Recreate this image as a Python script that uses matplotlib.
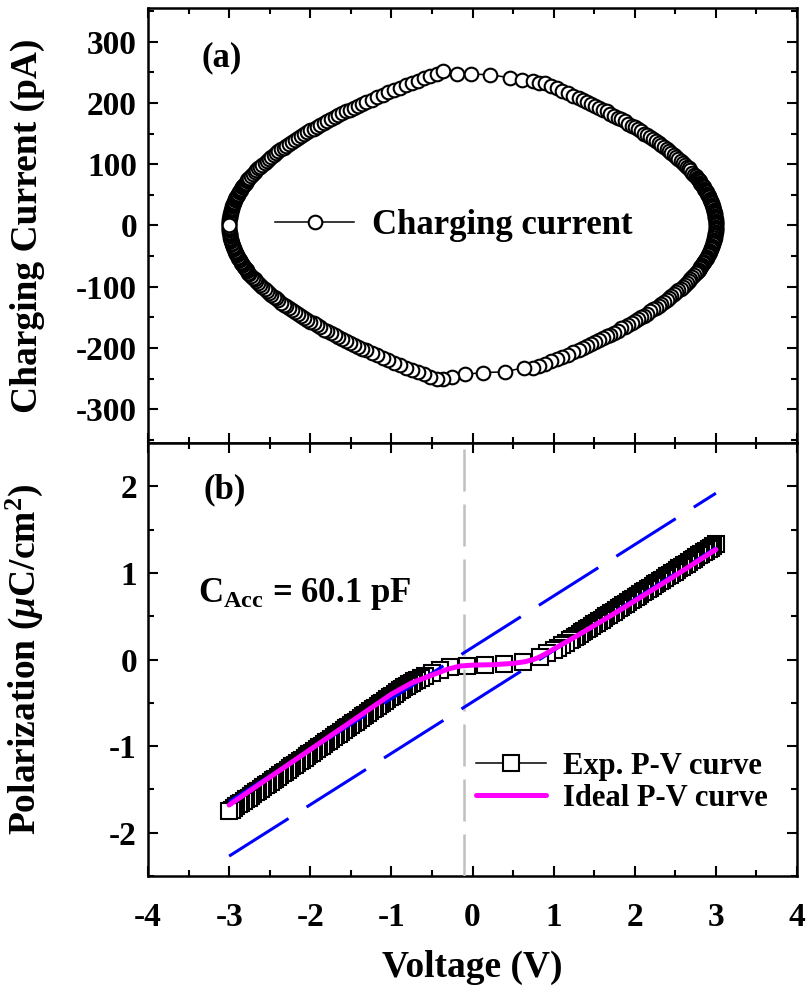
import matplotlib
matplotlib.use('Agg')
import matplotlib.pyplot as plt
from matplotlib.ticker import MultipleLocator

#%% fonts / general look (Times-like bold everywhere)
plt.rcParams['font.family'] = 'Liberation Serif'
plt.rcParams['font.weight'] = 'bold'
plt.rcParams['axes.unicode_minus'] = False
plt.rcParams['mathtext.fontset'] = 'custom'
plt.rcParams['mathtext.rm'] = 'Liberation Serif:bold'
plt.rcParams['mathtext.bf'] = 'Liberation Serif:bold'
plt.rcParams['mathtext.it'] = 'Liberation Serif:italic:bold'

#%% (a) charging current loop
# upper branch, left part (V rising from -3)
up_left_v = [-3.000, -3.000, -2.999, -2.999, -2.998, -2.996, -2.994, -2.992, -2.990, -2.987,
             -2.984, -2.981, -2.978, -2.974, -2.969, -2.965, -2.960, -2.955, -2.949, -2.944,
             -2.938, -2.931, -2.924, -2.917, -2.910, -2.902, -2.894, -2.886, -2.878, -2.869,
             -2.859, -2.850, -2.840, -2.830, -2.819, -2.809, -2.798, -2.786, -2.774, -2.762,
             -2.750, -2.730, -2.708, -2.686, -2.664, -2.640, -2.616, -2.590, -2.564, -2.538,
             -2.510, -2.482, -2.452, -2.422, -2.392, -2.360, -2.328, -2.294, -2.260, -2.226,
             -2.190, -2.154, -2.116, -2.078, -2.040, -2.000, -1.960, -1.918, -1.876, -1.834,
             -1.790, -1.746, -1.700, -1.654, -1.608, -1.560, -1.512, -1.462, -1.412, -1.362,
             -1.310, -1.244, -1.178, -1.109, -1.040, -0.969, -0.898, -0.824, -0.750, -0.674,
             -0.598, -0.519, -0.440, -0.359]
up_left_i = [0, 2, 4, 6, 8, 10, 12, 14, 16, 17,
             19, 21, 23, 25, 27, 29, 31, 33, 35, 37,
             39, 41, 43, 45, 47, 48, 50, 52, 54, 56,
             58, 60, 62, 64, 66, 68, 70, 72, 74, 76,
             78, 81, 84, 87, 90, 93, 96, 99, 102, 105,
             109, 112, 115, 118, 121, 124, 127, 130, 133, 136,
             140, 143, 146, 149, 152, 155, 158, 161, 164, 167,
             171, 174, 177, 180, 183, 186, 189, 192, 195, 198,
             202, 205, 209, 213, 217, 221, 225, 229, 233, 236,
             240, 244, 248, 252]
# sparse points round the top
top_v = [-0.19, -0.02, 0.22, 0.46, 0.61, 0.75]
top_i = [248, 247, 246, 241, 238, 235]
# upper branch, right part
up_right_v = [0.824, 0.898, 0.969, 1.040, 1.109, 1.178, 1.244, 1.310, 1.362, 1.412,
              1.462, 1.512, 1.560, 1.608, 1.654, 1.700, 1.746, 1.790, 1.834, 1.876,
              1.918, 1.960, 2.000, 2.040, 2.078, 2.116, 2.154, 2.190, 2.226, 2.260,
              2.294, 2.328, 2.360, 2.392, 2.422, 2.452, 2.482, 2.510, 2.538, 2.564,
              2.590, 2.616, 2.640, 2.664, 2.686, 2.708, 2.730, 2.750, 2.762, 2.774,
              2.786, 2.798, 2.809, 2.819, 2.830, 2.840, 2.850, 2.859, 2.869, 2.878,
              2.886, 2.894, 2.902, 2.910, 2.917, 2.924, 2.931, 2.938, 2.944, 2.949,
              2.955, 2.960, 2.965, 2.969, 2.974, 2.978, 2.981, 2.984, 2.987, 2.990,
              2.992, 2.994, 2.996, 2.998, 2.999, 2.999, 3.000, 3.000]
up_right_i = [233, 232, 228, 224, 220, 216, 212, 208, 205, 202,
              198, 195, 192, 189, 186, 182, 179, 176, 173, 170,
              166, 163, 160, 157, 154, 150, 147, 144, 141, 138,
              134, 131, 128, 125, 122, 118, 115, 112, 109, 106,
              102, 99, 96, 93, 90, 86, 83, 80, 78, 76,
              74, 72, 70, 68, 66, 64, 62, 60, 58, 56,
              54, 52, 50, 48, 46, 44, 42, 40, 38, 36,
              34, 32, 30, 28, 26, 24, 22, 20, 18, 16,
              14, 12, 10, 8, 6, 4, 2, 0]
# lower branch, right part (V falling from 3)
low_right_v = [3.000, 2.999, 2.999, 2.998, 2.996, 2.994, 2.992, 2.990, 2.987, 2.984,
               2.981, 2.978, 2.974, 2.969, 2.965, 2.960, 2.955, 2.949, 2.944, 2.938,
               2.931, 2.924, 2.917, 2.910, 2.902, 2.894, 2.886, 2.878, 2.869, 2.859,
               2.850, 2.840, 2.830, 2.819, 2.809, 2.798, 2.786, 2.774, 2.762, 2.750,
               2.730, 2.708, 2.686, 2.664, 2.640, 2.616, 2.590, 2.564, 2.538, 2.510,
               2.482, 2.452, 2.422, 2.392, 2.360, 2.328, 2.294, 2.260, 2.226, 2.190,
               2.154, 2.116, 2.078, 2.040, 2.000, 1.960, 1.918, 1.876, 1.834, 1.790,
               1.746, 1.700, 1.654, 1.608, 1.560, 1.512, 1.462, 1.412, 1.362, 1.310,
               1.244, 1.178, 1.109, 1.040, 0.969, 0.898, 0.824]
low_right_i = [-2, -4, -6, -8, -10, -12, -14, -16, -18, -20,
               -21, -23, -25, -27, -29, -31, -33, -35, -37, -39,
               -41, -43, -45, -47, -49, -51, -53, -55, -57, -59,
               -60, -62, -64, -66, -68, -70, -72, -74, -76, -78,
               -81, -84, -87, -90, -94, -97, -100, -103, -106, -109,
               -112, -115, -119, -122, -125, -128, -131, -134, -137, -140,
               -144, -147, -150, -153, -156, -159, -162, -165, -168, -172,
               -175, -178, -181, -184, -187, -190, -193, -197, -200, -203,
               -207, -211, -215, -218, -222, -226, -230]
# sparse points round the bottom
bot_v = [0.75, 0.63, 0.40, 0.13, -0.09, -0.25, -0.37]
bot_i = [-232, -232, -239, -240, -243, -248, -250]
# lower branch, left part
low_left_v = [-0.440, -0.519, -0.598, -0.674, -0.750, -0.824, -0.898, -0.969, -1.040, -1.109,
              -1.178, -1.244, -1.310, -1.362, -1.412, -1.462, -1.512, -1.560, -1.608, -1.654,
              -1.700, -1.746, -1.790, -1.834, -1.876, -1.918, -1.960, -2.000, -2.040, -2.078,
              -2.116, -2.154, -2.190, -2.226, -2.260, -2.294, -2.328, -2.360, -2.392, -2.422,
              -2.452, -2.482, -2.510, -2.538, -2.564, -2.590, -2.616, -2.640, -2.664, -2.686,
              -2.708, -2.730, -2.750, -2.762, -2.774, -2.786, -2.798, -2.809, -2.819, -2.830,
              -2.840, -2.850, -2.859, -2.869, -2.878, -2.886, -2.894, -2.902, -2.910, -2.917,
              -2.924, -2.931, -2.938, -2.944, -2.949, -2.955, -2.960, -2.965, -2.969, -2.974,
              -2.978, -2.981, -2.984, -2.987, -2.990, -2.992, -2.994, -2.996, -2.998, -2.999,
              -2.999, -3.000, -3.000]
low_left_i = [-251, -247, -243, -239, -236, -232, -228, -224, -220, -216,
              -212, -208, -204, -201, -198, -195, -192, -188, -185, -182,
              -179, -176, -173, -170, -166, -163, -160, -157, -154, -151,
              -148, -144, -141, -138, -135, -132, -129, -126, -122, -119,
              -116, -113, -110, -107, -104, -100, -97, -94, -91, -88,
              -85, -82, -79, -77, -75, -73, -71, -69, -67, -65,
              -63, -61, -59, -57, -55, -53, -51, -49, -47, -45,
              -43, -41, -39, -37, -35, -33, -31, -29, -28, -26,
              -24, -22, -20, -18, -16, -14, -12, -10, -8, -6,
              -4, -2, 0]

#%% (b) polarization (swept from +3 V down to -3 V)
exp_v_right = [3.00, 2.97, 2.94, 2.91, 2.88, 2.85, 2.82, 2.79, 2.76, 2.73,
               2.70, 2.67, 2.64, 2.61, 2.58, 2.55, 2.52, 2.49, 2.46, 2.43,
               2.40, 2.37, 2.34, 2.31, 2.28, 2.25, 2.22, 2.19, 2.16, 2.13,
               2.10, 2.07, 2.04, 2.01, 1.98, 1.95, 1.92, 1.89, 1.86, 1.83,
               1.80, 1.77, 1.74, 1.71, 1.68, 1.65, 1.62, 1.59, 1.56, 1.53,
               1.50, 1.47, 1.44, 1.41, 1.38, 1.35, 1.32, 1.29, 1.26, 1.23, 1.20]
exp_p_right = [1.330, 1.312, 1.293, 1.275, 1.256, 1.238, 1.219, 1.201, 1.182, 1.164,
               1.145, 1.127, 1.108, 1.090, 1.071, 1.053, 1.034, 1.016, 0.997, 0.979,
               0.960, 0.942, 0.923, 0.905, 0.886, 0.868, 0.849, 0.831, 0.812, 0.794,
               0.775, 0.757, 0.738, 0.720, 0.701, 0.683, 0.664, 0.646, 0.627, 0.609,
               0.590, 0.572, 0.553, 0.535, 0.516, 0.498, 0.479, 0.461, 0.442, 0.424,
               0.405, 0.387, 0.368, 0.350, 0.331, 0.313, 0.294, 0.276, 0.257, 0.239, 0.220]
exp_v_mid = [1.15, 1.10, 1.05, 1.00, 0.92, 0.83, 0.62, 0.39, 0.15, -0.07,
             -0.28, -0.40, -0.50, -0.58, -0.64, -0.69]
exp_p_mid = [0.190, 0.163, 0.137, 0.112, 0.075, 0.030, -0.030, -0.055, -0.062, -0.070,
             -0.085, -0.118, -0.155, -0.186, -0.212, -0.235]
exp_v_left = [-0.72, -0.75, -0.78, -0.81, -0.84, -0.87, -0.90, -0.93, -0.96, -0.99,
              -1.02, -1.05, -1.08, -1.11, -1.14, -1.17, -1.20, -1.23, -1.26, -1.29,
              -1.32, -1.35, -1.38, -1.41, -1.44, -1.47, -1.50, -1.53, -1.56, -1.59,
              -1.62, -1.65, -1.68, -1.71, -1.74, -1.77, -1.80, -1.83, -1.86, -1.89,
              -1.92, -1.95, -1.98, -2.01, -2.04, -2.07, -2.10, -2.13, -2.16, -2.19,
              -2.22, -2.25, -2.28, -2.31, -2.34, -2.37, -2.40, -2.43, -2.46, -2.49,
              -2.52, -2.55, -2.58, -2.61, -2.64, -2.67, -2.70, -2.73, -2.76, -2.79,
              -2.82, -2.85, -2.88, -2.91, -2.94, -2.97, -3.00]
exp_p_left = [-0.250, -0.266, -0.283, -0.301, -0.319, -0.338, -0.357, -0.377, -0.397, -0.417,
              -0.437, -0.457, -0.477, -0.497, -0.517, -0.537, -0.557, -0.577, -0.597, -0.617,
              -0.636, -0.656, -0.676, -0.696, -0.716, -0.736, -0.756, -0.776, -0.796, -0.816,
              -0.836, -0.856, -0.876, -0.896, -0.916, -0.936, -0.956, -0.976, -0.996, -1.016,
              -1.035, -1.055, -1.075, -1.095, -1.115, -1.135, -1.155, -1.175, -1.195, -1.215,
              -1.235, -1.255, -1.275, -1.295, -1.315, -1.335, -1.355, -1.375, -1.395, -1.415,
              -1.434, -1.454, -1.474, -1.494, -1.514, -1.534, -1.554, -1.574, -1.594, -1.614,
              -1.634, -1.654, -1.674, -1.694, -1.714, -1.734, -1.754]

ideal_v = [-3.0, -2.5, -2.0, -1.5, -1.0, -0.75, -0.5, -0.4, -0.3, -0.15, 0.0, 0.25, 0.5,
           0.65, 0.7, 0.75, 0.8, 0.85, 0.9, 1.0, 1.3, 1.8, 2.4, 3.0]
ideal_p = [-1.68, -1.36, -1.04, -0.72, -0.40, -0.27, -0.18, -0.145, -0.11, -0.075, -0.065,
           -0.06, -0.045, -0.025, -0.012, 0.0, 0.018, 0.04, 0.065, 0.12, 0.28, 0.56, 0.91, 1.27]

# saturation lines (blue dashed) and the offset voltage marker
sat_v = [-3.0, 3.0]
sat_upper_p = [-1.64, 1.92]
sat_lower_p = [-2.27, 1.29]
v_offset = -0.1

#%% figure
fig = plt.figure(figsize=(8.08, 9.93), dpi=100)
ax1 = fig.add_axes([0.1832, 0.5539, 0.8032, 0.4381])
ax2 = fig.add_axes([0.1832, 0.1178, 0.8032, 0.4361], sharex=ax1)

loop_v = up_left_v + top_v + up_right_v + low_right_v + bot_v + low_left_v
loop_i = up_left_i + top_i + up_right_i + low_right_i + bot_i + low_left_i
ax1.plot(loop_v, loop_i, color='black', linewidth=1.1, marker='o', markersize=9.8,
         markerfacecolor='white', markeredgecolor='black', markeredgewidth=1.5,
         label='Charging current')
ax1.set_ylim(-355, 355)
ax1.set_ylabel('Charging Current (pA)', fontsize=27, fontweight='bold')
ax1.text(0.083, 0.885, '(a)', transform=ax1.transAxes, fontsize=25,
         fontweight='bold', ha='left', va='center')
ax1.legend(loc='center left', bbox_to_anchor=(0.195, 0.499), frameon=False,
           fontsize=25, handlelength=2.3, handletextpad=0.5, borderpad=0,
           borderaxespad=0, numpoints=1)
ax1.yaxis.set_major_locator(MultipleLocator(100))
ax1.yaxis.set_minor_locator(MultipleLocator(50))
plt.setp(ax1.get_xticklabels(), visible=False)

exp_v = exp_v_right + exp_v_mid + exp_v_left
exp_p = exp_p_right + exp_p_mid + exp_p_left
ax2.axvline(v_offset, color='#c0c0c0', linewidth=1.8, dashes=(16.8, 5.2), zorder=3)
ax2.plot(exp_v, exp_p, color='black', linewidth=1.1, marker='s', markersize=11.5,
         markerfacecolor='white', markeredgecolor='black', markeredgewidth=1.5,
         label='Exp. P-V curve', zorder=2)
ax2.plot(sat_v, sat_upper_p, color='#0000ff', linewidth=2.2, dashes=(23, 7), zorder=3)
ax2.plot(sat_v, sat_lower_p, color='#0000ff', linewidth=2.2, dashes=(23, 7), zorder=3)
ax2.plot(ideal_v, ideal_p, color='#ff00ff', linewidth=3.6, label='Ideal P-V curve',
         zorder=4, solid_capstyle='round')
ax2.set_ylim(-2.5, 2.5)
ax2.set_xlim(-4, 4)
ax2.set_ylabel(r'Polarization ($\mu$C/cm$^2$)', fontsize=27, fontweight='bold')
ax2.set_xlabel('Voltage (V)', fontsize=27, fontweight='bold')
ax2.text(0.085, 0.891, '(b)', transform=ax2.transAxes, fontsize=25,
         fontweight='bold', ha='left', va='center')
ax2.text(0.077, 0.633, r'C$_{\rm Acc}$ = 60.1 pF', transform=ax2.transAxes, fontsize=25,
         fontweight='bold', ha='left', va='baseline')
ax2.legend(loc='center left', bbox_to_anchor=(0.505, 0.216), frameon=False,
           fontsize=22, handlelength=2.3, handletextpad=0.55, borderpad=0,
           borderaxespad=0, labelspacing=0.1, numpoints=1)
ax2.xaxis.set_major_locator(MultipleLocator(1))
ax2.xaxis.set_minor_locator(MultipleLocator(0.5))
ax2.yaxis.set_major_locator(MultipleLocator(1))
ax2.yaxis.set_minor_locator(MultipleLocator(0.5))

for ax in (ax1, ax2):
    for side in ax.spines.values():
        side.set_linewidth(1.8)
    ax.tick_params(which='both', direction='in', top=True, right=True, width=1.5)
    ax.tick_params(which='major', length=7, labelsize=24, pad=8)
    ax.tick_params(which='minor', length=4)
    for lab in ax.get_xticklabels() + ax.get_yticklabels():
        lab.set_fontweight('bold')
ax2.tick_params(axis='x', which='major', pad=19)

ax1.yaxis.set_label_coords(-0.158, 0.5)
ax2.yaxis.set_label_coords(-0.158, 0.5)
ax2.xaxis.set_label_coords(0.5, -0.171)

plt.savefig('out.png', dpi=100)
